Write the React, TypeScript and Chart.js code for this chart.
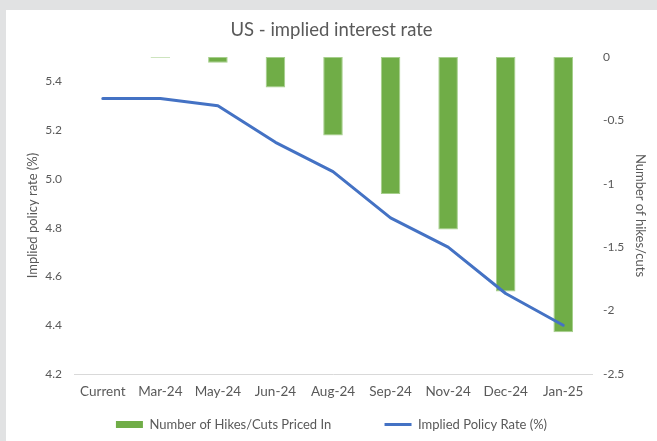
import React, { useEffect, useRef } from "react";
import { Chart, registerables } from "chart.js";

Chart.register(...registerables);

const categories = ["Current", "Mar-24", "May-24", "Jun-24", "Aug-24", "Sep-24", "Nov-24", "Dec-24", "Jan-25"];
const hikesCuts = [0, -0.005, -0.045, -0.24, -0.62, -1.08, -1.36, -1.85, -2.17];
const impliedRate = [5.33, 5.33, 5.3, 5.15, 5.03, 4.84, 4.72, 4.53, 4.4];
const barLabel = "Number of Hikes/Cuts Priced In";
const lineLabel = "Implied Policy Rate (%)";
const titleText = "US - implied interest rate";
const leftTitle = "Implied policy rate (%)";
const rightTitle = "Number of hikes/cuts";

const TXT = "#595959";
const FONT = "Lato, 'Noto Sans', sans-serif";

const panelPlugin = {
  id: "panel",
  beforeDraw(chart: any) {
    const { ctx, width, height } = chart;
    ctx.save();
    ctx.fillStyle = "#e1e2e3";
    ctx.fillRect(0, 0, width, height);
    ctx.fillStyle = "#ffffff";
    ctx.fillRect(6, 10, width - 6, height - 10);
    ctx.restore();
  },
};

export default function App() {
  const ref = useRef<HTMLCanvasElement | null>(null);
  useEffect(() => {
    document.body.style.margin = "0";
    document.body.style.overflow = "hidden";
    const canvas = ref.current;
    if (!canvas) return;
    const chart = new Chart(canvas, {
      type: "bar",
      data: {
        labels: categories,
        datasets: [
          {
            type: "bar",
            label: barLabel,
            data: hikesCuts,
            yAxisID: "y1",
            backgroundColor: "#70ad47",
            borderColor: "#a6cf8c",
            borderWidth: 1,
            borderSkipped: false,
            barPercentage: 0.34,
            categoryPercentage: 1,
            order: 1,
          } as any,
          {
            type: "line",
            label: lineLabel,
            data: impliedRate,
            yAxisID: "y",
            borderColor: "#4472c4",
            backgroundColor: "#4472c4",
            borderWidth: 3,
            pointRadius: 0,
            tension: 0,
            borderJoinStyle: "round",
            borderCapStyle: "round",
            order: 0,
          } as any,
        ],
      },
      options: {
        responsive: false,
        animation: false,
        layout: { padding: { top: 10, left: 6, right: 0, bottom: 0 } },
        plugins: {
          title: {
            display: true,
            text: titleText,
            color: TXT,
            font: { family: FONT, size: 18.5, weight: "normal" },
            padding: { top: 9, bottom: 15.8 },
          },
          legend: {
            position: "bottom",
            labels: {
              color: TXT,
              font: { family: FONT, size: 13 },
              usePointStyle: true,
              pointStyleWidth: 27,
              boxHeight: 7,
              padding: 10,
              sort: (a: any, b: any) => a.datasetIndex - b.datasetIndex,
              generateLabels: (chart: any) => {
                const items = Chart.defaults.plugins.legend.labels.generateLabels(chart);
                return items.map((it: any) => {
                  const isBar = it.datasetIndex === 0;
                  return {
                    ...it,
                    text: isBar ? it.text + "             " : it.text,
                    pointStyle: isBar ? "rect" : "line",
                    lineWidth: isBar ? 0 : 3,
                    strokeStyle: isBar ? "#70ad47" : "#4472c4",
                    fillStyle: isBar ? "#70ad47" : "#4472c4",
                  };
                });
              },
            },
          },
          tooltip: { enabled: false },
        },
        scales: {
          x: {
            grid: { display: false, drawTicks: false },
            border: { display: true, color: "#d9d9d9", width: 1 },
            ticks: { color: TXT, font: { family: FONT, size: 13.5 }, padding: 10, maxRotation: 0, autoSkip: false },
            afterFit: (s: any) => {
              s.height = 34;
            },
          },
          y: {
            position: "left",
            min: 4.2,
            max: 5.5,
            grid: { display: false, drawTicks: false },
            border: { display: false },
            ticks: {
              stepSize: 0.2,
              includeBounds: false,
              color: TXT,
              font: { family: FONT, size: 12 },
              padding: 12,
              callback: (v: any) => Number(v).toFixed(1),
            },
            title: {
              display: true,
              text: leftTitle,
              color: TXT,
              font: { family: FONT, size: 13 },
              padding: { top: 19, bottom: 0 },
            },
            afterFit: (s: any) => {
              s.width = 68;
            },
          },
          y1: {
            position: "right",
            min: -2.5,
            max: 0,
            grid: { display: false, drawTicks: false },
            border: { display: false },
            ticks: {
              stepSize: 0.5,
              color: TXT,
              font: { family: FONT, size: 12 },
              padding: 11,
              callback: (v: any) => String(Math.round(Number(v) * 10) / 10),
            },
            title: {
              display: true,
              text: rightTitle,
              color: TXT,
              font: { family: FONT, size: 13 },
              padding: { top: 9, bottom: 0 },
            },
            afterFit: (s: any) => {
              s.width = 65;
            },
          },
        },
      } as any,
      plugins: [panelPlugin],
    });
    return () => chart.destroy();
  }, []);
  return (
    <div style={{ width: 657, height: 441 }}>
      <canvas ref={ref} width={657} height={441} style={{ display: "block" }} />
    </div>
  );
}
